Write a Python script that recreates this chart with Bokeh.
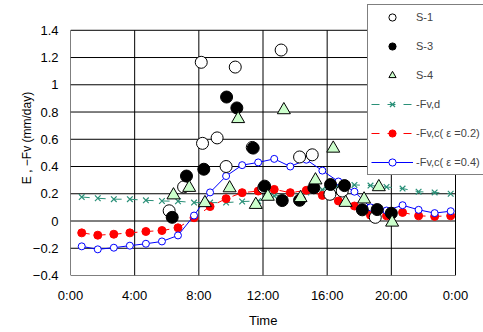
from bokeh.plotting import figure
from bokeh.models import (ColumnDataSource, FixedTicker, Legend, LegendItem, Range1d, Title)
from bokeh.embed import file_html
from bokeh.resources import INLINE

# ---- data ----
hours = [0.7, 1.7, 2.7, 3.7, 4.7, 5.7, 6.7, 7.7, 8.7, 9.7, 10.7, 11.7,
         12.7, 13.7, 14.7, 15.7, 16.7, 17.7, 18.7, 19.7, 20.7, 21.7, 22.7, 23.7]
fv_d = [0.176, 0.167, 0.16, 0.16, 0.152, 0.147, 0.145, 0.135, 0.135, 0.135, 0.143, 0.147,
        0.183, 0.2, 0.21, 0.23, 0.255, 0.265, 0.26, 0.25, 0.238, 0.215, 0.21, 0.2]
fv_c02 = [-0.087, -0.104, -0.097, -0.087, -0.077, -0.07, -0.05, 0.024, 0.106, 0.164, 0.208, 0.22,
          0.232, 0.208, 0.225, 0.188, 0.147, 0.11, 0.043, 0.038, 0.063, 0.038, 0.034, 0.038]
fv_c04 = [-0.186, -0.208, -0.196, -0.181, -0.167, -0.15, -0.106, 0.04, 0.21, 0.33, 0.41, 0.43,
          0.456, 0.40, 0.45, 0.37, 0.29, 0.215, 0.10, 0.077, 0.116, 0.082, 0.058, 0.072]

s1_t = [6.15, 7.05, 8.15, 8.23, 9.14, 9.7, 10.27, 11.33, 12.05, 13.13, 14.28, 15.07, 16.17, 16.94, 19.0]
s1_e = [0.075, 0.25, 1.165, 0.57, 0.61, 0.40, 1.13, 0.54, 0.245, 1.255, 0.47, 0.486, 0.196, 0.22, 0.027]
s3_t = [6.34, 7.23, 8.31, 9.73, 10.37, 11.39, 12.1, 13.2, 14.28, 15.17, 16.21, 17.08, 18.19, 19.12, 20.0]
s3_e = [0.027, 0.33, 0.38, 0.91, 0.83, 0.535, 0.256, 0.15, 0.152, 0.244, 0.268, 0.26, 0.082, 0.084, 0.057]
s4_t = [6.42, 7.4, 8.38, 9.92, 10.45, 11.55, 12.3, 13.3, 14.34, 15.27, 16.38, 17.15, 18.3, 19.22, 20.05]
s4_e = [0.19, 0.245, 0.133, 0.242, 0.75, 0.12, 0.18, 0.815, 0.17, 0.30, 0.533, 0.135, 0.16, 0.25, -0.01]

x_ticks = [0, 4, 8, 12, 16, 20, 24]
x_labels = ["0:00", "4:00", "8:00", "12:00", "16:00", "20:00", "0:00"]
y_ticks = [-0.4, -0.2, 0.0, 0.2, 0.4, 0.6, 0.8, 1.0, 1.2, 1.4]
y_labels = ["\u22120.4", "\u22120.2", "0", "0.2", "0.4", "0.6", "0.8", "1", "1.2", "1.4"]

FONT = "Liberation Sans"
W, H = 483, 332
# visible plot box in page px: left 70, right 455, top 30, bottom 277
BOX_L, BOX_R, BOX_T, BOX_B = 70, 455, 30, 277
X0, X1, Y0, Y1 = x_ticks[0], x_ticks[-1], y_ticks[0], y_ticks[-1]
# the frame reaches the canvas top/right edge so that the legend is not clipped
x_end = X0 + (X1 - X0) * (W - BOX_L) / (BOX_R - BOX_L)
y_end = Y0 + (Y1 - Y0) * (BOX_B - 0) / (BOX_B - BOX_T)

p = figure(width=W, height=H, output_backend="svg", toolbar_location=None,
           x_range=Range1d(X0, x_end), y_range=Range1d(Y0, y_end))
p.min_border_left = BOX_L
p.min_border_right = 0
p.min_border_top = 0
p.min_border_bottom = H - BOX_B
p.background_fill_color = "white"
p.border_fill_color = "white"
p.outline_line_color = None

p.xaxis.ticker = FixedTicker(ticks=x_ticks)
p.xaxis.major_label_overrides = {t: l for t, l in zip(x_ticks, x_labels)}
p.xaxis.bounds = (X0, X1)
p.yaxis.ticker = FixedTicker(ticks=y_ticks)
p.yaxis.major_label_overrides = {t: l for t, l in zip(y_ticks, y_labels)}
p.yaxis.bounds = (Y0, Y1)
for ax in (p.xaxis, p.yaxis):
    ax.major_tick_in = 0
    ax.major_tick_out = 0
    ax.minor_tick_in = 0
    ax.minor_tick_out = 0
    ax.axis_line_color = None
    ax.major_label_text_font = FONT
    ax.major_label_text_font_size = "13px"
    ax.major_label_text_color = "black"
    ax.axis_label_text_font = FONT
    ax.axis_label_text_font_style = "normal"
    ax.axis_label_text_color = "black"
p.xaxis.major_label_standoff = 12
p.yaxis.major_label_standoff = 12
p.yaxis.axis_label = "E , \u2212Fv (mm/day)"
p.yaxis.axis_label_text_font_size = "12px"
p.yaxis.axis_label_standoff = -4

# x axis title, centred under the visible plot box
xt = Title(text="Time", align="left", offset=(BOX_L + BOX_R) / 2 - 14 - BOX_L,
           text_font=FONT, text_font_size="13px", text_font_style="normal",
           text_color="black", standoff=10)
p.add_layout(xt, "below")

p.grid.visible = False

# grid lines and box limited to the data area
p.segment(x0=x_ticks, y0=[Y0] * len(x_ticks), x1=x_ticks, y1=[Y1] * len(x_ticks),
          line_color="black", line_width=1)
p.segment(x0=[X0] * len(y_ticks), y0=y_ticks, x1=[X1] * len(y_ticks), y1=y_ticks,
          line_color="black", line_width=1)

# series
src_d = ColumnDataSource(dict(x=hours, y=fv_d))
src_c2 = ColumnDataSource(dict(x=hours, y=fv_c02))
src_c4 = ColumnDataSource(dict(x=hours, y=fv_c04))

teal = "#2a9078"
ld = p.line("x", "y", source=src_d, line_color=teal, line_width=1, line_dash="8 8")
sd = p.scatter("x", "y", source=src_d, marker="x", size=8, line_color=teal, line_width=1.2)
l2 = p.line("x", "y", source=src_c2, line_color="red", line_width=1, line_dash="8 8")
s2 = p.scatter("x", "y", source=src_c2, marker="circle", size=8, fill_color="red", line_color="red")
l4 = p.line("x", "y", source=src_c4, line_color="blue", line_width=1)
s4c = p.scatter("x", "y", source=src_c4, marker="circle", size=7, fill_color="white", line_color="blue", line_width=1)

r1 = p.scatter(s1_t, s1_e, marker="circle", size=12, fill_color="white", line_color="black", line_width=1)
r3 = p.scatter(s3_t, s3_e, marker="circle", size=12, fill_color="black", line_color="black", line_width=1)
r4 = p.scatter(s4_t, s4_e, marker="triangle", size=13, fill_color="#ccffcc", line_color="black", line_width=1)

# small legend-only markers (a single NaN point, never drawn in the plot)
nan = [float("nan")]
g1 = p.scatter(nan, nan, marker="circle", size=6, fill_color="white", line_color="black", line_width=1)
g3 = p.scatter(nan, nan, marker="circle", size=6, fill_color="black", line_color="black", line_width=1)
g4 = p.scatter(nan, nan, marker="triangle", size=7, fill_color="#ccffcc", line_color="black", line_width=1)
gd = p.scatter(nan, nan, marker="x", size=8, line_color=teal, line_width=1.2)
g2 = p.scatter(nan, nan, marker="circle", size=7, fill_color="red", line_color="red")
g4c = p.scatter(nan, nan, marker="circle", size=7, fill_color="white", line_color="blue", line_width=1)

# legend: left at page x=367, top at page y=8
legend = Legend(items=[
    LegendItem(label="S-1", renderers=[g1]),
    LegendItem(label="S-3", renderers=[g3]),
    LegendItem(label="S-4", renderers=[g4]),
    LegendItem(label="-Fv,d", renderers=[ld, gd]),
    LegendItem(label="-Fv,c( \u03b5 =0.2)", renderers=[l2, g2]),
    LegendItem(label="-Fv,c( \u03b5 =0.4)", renderers=[l4, g4c]),
], location=(367 - BOX_L, BOX_B - 177))
legend.label_text_font = FONT
legend.label_text_font_size = "11px"
legend.glyph_width = 42
legend.glyph_height = 18
legend.label_height = 18
legend.label_width = 72
legend.label_standoff = 3
legend.spacing = 11
legend.padding = 3
legend.margin = 0
legend.border_line_color = "black"
legend.border_line_width = 1
legend.background_fill_color = "white"
legend.background_fill_alpha = 1.0
p.add_layout(legend, "center")

open("out.html", "w").write(file_html(p, INLINE))
